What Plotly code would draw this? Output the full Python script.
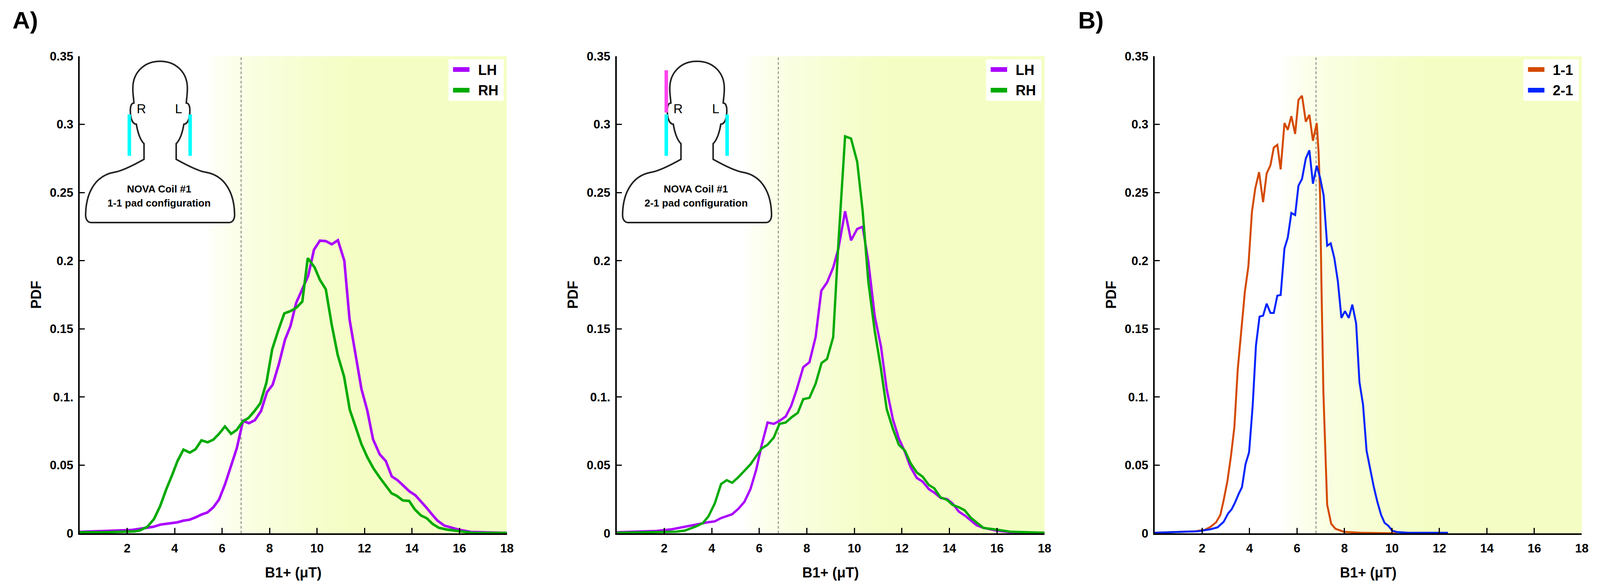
import plotly.graph_objects as go

W_REF, H_REF = 4577, 1506      # reference picture size (all positions below are in its pixels)
FIG_W, FIG_H = 4096, 1506      # browser viewport actually available
FONT = "Liberation Sans, Arial, sans-serif"

# ---------------- data ----------------
P1_LH_X = [0, 1.4, 2.15, 2.6, 3.1, 3.4, 3.85, 4.12, 4.37, 4.63, 4.88, 5.13, 5.38, 5.63, 5.87,
           6.12, 6.37, 6.62, 6.88, 7.13, 7.38, 7.64, 7.89, 8.13, 8.39, 8.65, 8.88, 9.12, 9.35,
           9.63, 9.87, 10.12, 10.37, 10.62, 10.88, 11.15, 11.37, 11.61, 11.87, 12.12, 12.36,
           12.64, 12.90, 13.15, 13.39, 13.65, 13.90, 14.14, 14.37, 14.61, 14.84, 15.07, 15.36,
           15.69, 16.02, 16.49, 16.96, 18]
P1_LH_Y = [0.0011, 0.0017, 0.0024, 0.0035, 0.0048, 0.0064, 0.0073, 0.0081, 0.0093, 0.0100,
           0.0117, 0.0138, 0.0153, 0.0191, 0.0248, 0.0358, 0.0491, 0.0625, 0.0825, 0.0808,
           0.0830, 0.0897, 0.1035, 0.109, 0.124, 0.142, 0.152, 0.169, 0.178, 0.189, 0.208,
           0.2147, 0.2144, 0.212, 0.215, 0.200, 0.157, 0.1326, 0.106, 0.090, 0.069, 0.058,
           0.053, 0.0417, 0.039, 0.0348, 0.0307, 0.028, 0.0237, 0.0189, 0.014, 0.0094, 0.0057,
           0.0041, 0.0025, 0.001, 0.0007, 0.0003]

P1_RH_X = [0, 1.02, 2.32, 2.54, 2.85, 3.13, 3.39, 3.64, 3.90, 4.12, 4.37, 4.64, 4.88, 5.13,
           5.39, 5.63, 5.88, 6.12, 6.38, 6.62, 6.88, 7.11, 7.35, 7.61, 7.87, 8.11, 8.37, 8.62,
           8.88, 9.12, 9.38, 9.61, 9.90, 10.12, 10.37, 10.62, 10.87, 11.14, 11.38, 11.62,
           11.87, 12.12, 12.38, 12.64, 12.90, 13.14, 13.37, 13.62, 13.88, 14.12, 14.38, 14.63,
           14.87, 15.13, 15.46, 15.97, 16.58, 18]
P1_RH_Y = [0.0008, 0.0008, 0.0014, 0.0022, 0.0048, 0.0105, 0.020, 0.032, 0.043, 0.053,
           0.0614, 0.0592, 0.0617, 0.0682, 0.0668, 0.0687, 0.0732, 0.0784, 0.073, 0.0759,
           0.0823, 0.0846, 0.0894, 0.0954, 0.1107, 0.135, 0.149, 0.1613, 0.163, 0.1654, 0.170,
           0.2019, 0.195, 0.186, 0.179, 0.153, 0.131, 0.115, 0.0907, 0.0779, 0.0655, 0.0558,
           0.0476, 0.041, 0.0348, 0.0294, 0.0274, 0.0241, 0.0238, 0.0176, 0.0131, 0.011,
           0.0069, 0.0041, 0.0028, 0.0016, 0.0003, 0.0003]

P2_LH_X = [0, 0.97, 1.68, 2.33, 2.86, 3.33, 3.80, 4.13, 4.39, 4.86, 5.12, 5.37, 5.63, 5.87,
           6.10, 6.35, 6.61, 6.87, 7.11, 7.34, 7.58, 7.85, 8.11, 8.37, 8.61, 8.85, 9.11, 9.33,
           9.61, 9.86, 10.12, 10.35, 10.59, 10.86, 11.12, 11.36, 11.62, 11.87, 12.13, 12.36,
           12.63, 12.87, 13.13, 13.36, 13.64, 13.90, 14.13, 14.40, 14.66, 14.90, 15.14, 15.43,
           15.99, 16.55, 18]
P2_LH_Y = [0.0008, 0.0012, 0.0018, 0.003, 0.005, 0.0064, 0.008, 0.0088, 0.0112, 0.014, 0.018,
           0.023, 0.0325, 0.0466, 0.0647, 0.0813, 0.0803, 0.0827, 0.0857, 0.0934, 0.1058,
           0.1219, 0.1255, 0.144, 0.178, 0.184, 0.195, 0.209, 0.2363, 0.2149, 0.2233, 0.2249,
           0.199, 0.159, 0.137, 0.1058, 0.0837, 0.0697, 0.0596, 0.0486, 0.0406, 0.038, 0.0325,
           0.0299, 0.0259, 0.0251, 0.0219, 0.0159, 0.0129, 0.0094, 0.006, 0.004, 0.002, 0.0008,
           0.0004]

P2_RH_X = [0, 1.91, 2.50, 2.86, 3.33, 3.62, 3.86, 4.13, 4.39, 4.63, 4.86, 5.12, 5.37, 5.63,
           5.87, 6.10, 6.35, 6.61, 6.85, 7.11, 7.37, 7.62, 7.85, 8.11, 8.37, 8.62, 8.85, 9.11,
           9.33, 9.61, 9.86, 10.12, 10.35, 10.59, 10.86, 11.10, 11.36, 11.62, 11.87, 12.13,
           12.36, 12.63, 12.87, 13.13, 13.36, 13.62, 13.90, 14.13, 14.40, 14.64, 14.90, 15.14,
           15.43, 15.96, 16.55, 18]
P2_RH_Y = [0.0004, 0.0008, 0.0012, 0.002, 0.005, 0.0074, 0.0124, 0.022, 0.0361, 0.039, 0.0371,
           0.0412, 0.046, 0.0506, 0.0566, 0.0622, 0.065, 0.0703, 0.0803, 0.0813, 0.0853, 0.0884,
           0.0984, 0.0994, 0.1098, 0.1249, 0.1279, 0.144, 0.2133, 0.2912, 0.2896, 0.2725,
           0.2363, 0.1841, 0.148, 0.1229, 0.0912, 0.0767, 0.065, 0.0606, 0.0516, 0.0446, 0.0416,
           0.0355, 0.0331, 0.0265, 0.0245, 0.0209, 0.0191, 0.0169, 0.0114, 0.0078, 0.004,
           0.0028, 0.0012, 0.0004]

P3_11_X = [0, 0.99, 1.70, 2.12, 2.36, 2.59, 2.77, 2.91, 3.07, 3.21, 3.36, 3.50, 3.65, 3.80,
           3.95, 4.10, 4.24, 4.40, 4.57, 4.72, 4.88, 5.02, 5.17, 5.31, 5.47, 5.61, 5.76, 5.92,
           6.06, 6.21, 6.37, 6.52, 6.67, 6.83, 6.91, 6.97, 7.03, 7.11, 7.18, 7.27, 7.44, 7.62,
           7.98, 8.69, 10.2]
P3_11_Y = [0.0004, 0.0009, 0.0015, 0.0026, 0.0048, 0.0081, 0.0136, 0.0245, 0.0387, 0.056,
           0.078, 0.120, 0.148, 0.177, 0.196, 0.236, 0.253, 0.265, 0.243, 0.264, 0.270, 0.283,
           0.285, 0.267, 0.301, 0.296, 0.306, 0.293, 0.318, 0.321, 0.302, 0.307, 0.288, 0.301,
           0.279, 0.249, 0.181, 0.104, 0.067, 0.021, 0.007, 0.0033, 0.0011, 0.0004, 0.0]

P3_21_X = [0, 0.99, 1.82, 2.36, 2.65, 2.91, 3.10, 3.24, 3.38, 3.54, 3.68, 3.83, 3.98, 4.13,
           4.27, 4.42, 4.57, 4.72, 4.88, 5.02, 5.17, 5.31, 5.47, 5.61, 5.76, 5.92, 6.06, 6.21,
           6.37, 6.52, 6.67, 6.83, 6.97, 7.12, 7.27, 7.42, 7.57, 7.72, 7.87, 8.02, 8.18, 8.33,
           8.49, 8.63, 8.78, 8.93, 9.08, 9.23, 9.38, 9.54, 9.69, 9.85, 10.01, 10.22, 10.70,
           12.36]
P3_21_Y = [0.0004, 0.0009, 0.0015, 0.003, 0.0044, 0.0085, 0.0147, 0.0175, 0.0223, 0.0289,
           0.0339, 0.0508, 0.0595, 0.0934, 0.138, 0.159, 0.1597, 0.1685, 0.1617, 0.1617,
           0.1744, 0.1748, 0.209, 0.217, 0.235, 0.2335, 0.255, 0.260, 0.275, 0.281, 0.2565,
           0.2696, 0.261, 0.248, 0.211, 0.2127, 0.202, 0.185, 0.158, 0.163, 0.158, 0.1678,
           0.154, 0.111, 0.0945, 0.0606, 0.0475, 0.0344, 0.0234, 0.0136, 0.0077, 0.0055, 0.002,
           0.0009, 0.0004, 0.0004]

X_TICKS = [2, 4, 6, 8, 10, 12, 14, 16, 18]
Y_TICK_VALS = [0, 0.05, 0.1, 0.15, 0.2, 0.25, 0.3, 0.35]
Y_TICK_TEXT = ["0", "0.05", "0.1.", "0.15", "0.2", "0.25", "0.3", "0.35"]
THRESHOLD = 6.8

PANEL_SERIES = [
    [("LH", P1_LH_X, P1_LH_Y, "#AA00FF"), ("RH", P1_RH_X, P1_RH_Y, "#00AA00")],
    [("LH", P2_LH_X, P2_LH_Y, "#AA00FF"), ("RH", P2_RH_X, P2_RH_Y, "#00AA00")],
    [("1-1", P3_11_X, P3_11_Y, "#D44A00"), ("2-1", P3_21_X, P3_21_Y, "#0025FF")],
]
LINE_W = [6.5, 6, 5]
INSET_TEXT = ["1-1 pad configuration", "2-1 pad configuration", None]

# ---------------- layout geometry (reference pixels) ----------------
AX_X = [(228, 1450), (1764, 2988), (3303, 4525)]
AX_Y = (144, 1366)


def fx(x):
    return x / W_REF


def fy(y):
    return 1 - y / H_REF


fig = go.Figure()
shapes = []
annotations = []

for i, series in enumerate(PANEL_SERIES):
    sfx = "" if i == 0 else str(i + 1)
    xr, yr = "x" + sfx, "y" + sfx
    for name, xs, ys, col in series:
        fig.add_trace(go.Scatter(x=xs, y=ys, mode="lines", name=name, showlegend=False,
                                 line=dict(color=col, width=LINE_W[i]),
                                 xaxis=xr, yaxis=yr, hoverinfo="skip"))
    x0, x1 = AX_X[i]
    fig.update_layout(**{
        "xaxis" + sfx: dict(domain=[fx(x0), fx(x1)], range=[0, 18], anchor=yr,
                            tickmode="array", tickvals=X_TICKS, ticks="inside", ticklen=14,
                            tickwidth=3, tickcolor="black", showline=True, linewidth=4,
                            linecolor="black", showgrid=False, zeroline=False,
                            ticklabelstandoff=8,
                            tickfont=dict(family=FONT, size=31, color="black", weight="bold"),
                            title=dict(text="B1+ (μT)", standoff=34,
                                       font=dict(family=FONT, size=36, color="black",
                                                 weight="bold"))),
        "yaxis" + sfx: dict(domain=[fy(AX_Y[1]), fy(AX_Y[0])], range=[0, 0.35], anchor=xr,
                            tickmode="array", tickvals=Y_TICK_VALS, ticktext=Y_TICK_TEXT,
                            ticks="inside", ticklen=13, tickwidth=3, tickcolor="black",
                            showline=True, linewidth=4, linecolor="black", showgrid=False,
                            zeroline=False, ticklabelstandoff=6,
                            tickfont=dict(family=FONT, size=31, color="black", weight="bold"),
                            title=dict(text="PDF", standoff=12,
                                       font=dict(family=FONT, size=36, color="black",
                                                 weight="bold"))),
    })

    # background gradient (white -> pale yellow)
    g0, g1, n = 5.4, 11.5, 48
    end_rgb = (244, 254, 196)
    for k in range(n):
        a = g0 + (g1 - g0) * k / n
        b = g0 + (g1 - g0) * (k + 1) / n
        f = ((k + 0.5) / n) ** 0.6
        c = tuple(round(255 + (e - 255) * f) for e in end_rgb)
        shapes.append(dict(type="rect", xref=xr, yref=yr, x0=a, x1=b + 0.02, y0=0, y1=0.35,
                           fillcolor="rgb(%d,%d,%d)" % c, line=dict(width=0), layer="below"))
    shapes.append(dict(type="rect", xref=xr, yref=yr, x0=g1, x1=18, y0=0, y1=0.35,
                       fillcolor="rgb(%d,%d,%d)" % end_rgb, line=dict(width=0), layer="below"))
    shapes.append(dict(type="line", xref=xr, yref=yr, x0=THRESHOLD, x1=THRESHOLD, y0=0,
                       y1=0.35, line=dict(color="#777777", width=2, dash="7px,5px"),
                       layer="below"))

    # legend box
    bx1 = x1 - 9
    bx0 = bx1 - 158
    shapes.append(dict(type="rect", xref="paper", yref="paper", x0=fx(bx0), x1=fx(bx1),
                       y0=fy(258), y1=fy(152), fillcolor="white", line=dict(width=0),
                       layer="above"))
    for j, (name, xs, ys, col) in enumerate(series):
        yy = 178 + 53 * j
        shapes.append(dict(type="line", xref="paper", yref="paper", x0=fx(bx0 + 13),
                           x1=fx(bx0 + 60), y0=fy(yy), y1=fy(yy),
                           line=dict(color=col, width=12), layer="above"))
        annotations.append(dict(xref="paper", yref="paper", x=fx(bx0 + 82), y=fy(yy + 1),
                                text=name, showarrow=False, xanchor="left", yanchor="middle",
                                font=dict(family=FONT, size=36, color="black", weight="bold")))

    # head / coil inset
    if INSET_TEXT[i] is not None:
        cx = x0 + 230

        def P(dx, y):
            return "%.6f,%.6f" % (fx(cx + dx), fy(y))

        path = ("M " + P(0, 157) +
                " C " + P(45, 157) + " " + P(78, 185) + " " + P(78, 226) +
                " C " + P(78, 245) + " " + P(75, 255) + " " + P(75, 264) +
                " C " + P(83, 264) + " " + P(86, 274) + " " + P(85, 288) +
                " C " + P(84, 306) + " " + P(78, 318) + " " + P(68, 318) +
                " C " + P(65, 335) + " " + P(58, 358) + " " + P(46, 368) +
                " L " + P(46, 408) +
                " C " + P(80, 425) + " " + P(110, 438) + " " + P(130, 441) +
                " C " + P(190, 450) + " " + P(212, 500) + " " + P(213, 548) +
                " C " + P(214, 563) + " " + P(206, 570) + " " + P(197, 570) +
                " L " + P(-197, 570) +
                " C " + P(-206, 570) + " " + P(-214, 563) + " " + P(-213, 548) +
                " C " + P(-212, 500) + " " + P(-190, 450) + " " + P(-130, 441) +
                " C " + P(-110, 438) + " " + P(-80, 425) + " " + P(-46, 408) +
                " L " + P(-46, 368) +
                " C " + P(-58, 358) + " " + P(-65, 335) + " " + P(-68, 318) +
                " C " + P(-78, 318) + " " + P(-84, 306) + " " + P(-85, 288) +
                " C " + P(-86, 274) + " " + P(-83, 264) + " " + P(-75, 264) +
                " C " + P(-75, 255) + " " + P(-78, 245) + " " + P(-78, 226) +
                " C " + P(-78, 185) + " " + P(-45, 157) + " " + P(0, 157) + " Z")
        shapes.append(dict(type="path", xref="paper", yref="paper", path=path,
                           fillcolor="white", line=dict(color="#222222", width=4),
                           layer="above"))
        for dx in (-88, 86):
            shapes.append(dict(type="line", xref="paper", yref="paper", x0=fx(cx + dx),
                               x1=fx(cx + dx), y0=fy(293), y1=fy(399),
                               line=dict(color="#00FFFF", width=9), layer="above"))
        if i == 1:
            shapes.append(dict(type="line", xref="paper", yref="paper", x0=fx(cx - 88),
                               x1=fx(cx - 88), y0=fy(180), y1=fy(288),
                               line=dict(color="#FF44EE", width=9), layer="above"))
        for txt, dx in (("R", -54), ("L", 53)):
            annotations.append(dict(xref="paper", yref="paper", x=fx(cx + dx), y=fy(278),
                                    text=txt, showarrow=False, xanchor="center",
                                    yanchor="middle",
                                    font=dict(family=FONT, size=33, color="black")))
        annotations.append(dict(xref="paper", yref="paper", x=fx(cx - 3), y=fy(484),
                                text="NOVA Coil #1", showarrow=False, xanchor="center",
                                yanchor="middle",
                                font=dict(family=FONT, size=26, color="black", weight="bold")))
        annotations.append(dict(xref="paper", yref="paper", x=fx(cx - 3), y=fy(520),
                                text=INSET_TEXT[i], showarrow=False, xanchor="center",
                                yanchor="middle",
                                font=dict(family=FONT, size=26, color="black", weight="bold")))

# panel labels
for txt, xl in (("A)", 33), ("B)", 3082)):
    annotations.append(dict(xref="paper", yref="paper", x=fx(xl), y=fy(52), text=txt,
                            showarrow=False, xanchor="left", yanchor="middle",
                            font=dict(family=FONT, size=62, color="black", weight="bold")))

fig.update_layout(width=FIG_W, height=FIG_H, autosize=False,
                  margin=dict(l=0, r=0, t=0, b=0, pad=0),
                  paper_bgcolor="white", plot_bgcolor="rgba(0,0,0,0)", template="none",
                  showlegend=False, shapes=shapes, annotations=annotations,
                  font=dict(family=FONT, color="black"))

POST = """
document.documentElement.style.margin='0';
document.body.style.margin='0';
document.body.style.overflow='hidden';
var gd = document.getElementById('{plot_id}');
var iw = window.innerWidth;
if (iw && Math.abs(iw - %d) > 2) { Plotly.relayout(gd, {width: iw}); }
""" % FIG_W

fig.write_html("out.html", post_script=POST, config={"displayModeBar": False})
